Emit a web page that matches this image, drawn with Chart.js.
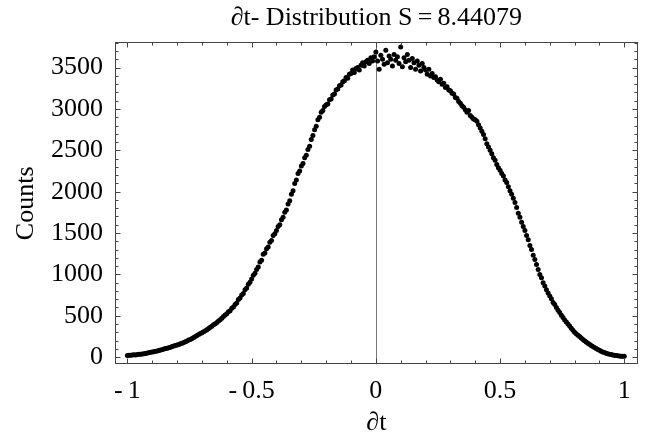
<!DOCTYPE html>
<html>
<head>
<meta charset="utf-8">
<script src="https://cdn.jsdelivr.net/npm/chart.js@4.4.1/dist/chart.umd.min.js"></script>
<style>
  html, body { margin: 0; padding: 0; background: #fff; }
</style>
</head>
<body>
<canvas id="chart" width="645" height="439"></canvas>
<script>
// histogram bins: centres go from -1 to 1 in steps of 1/150
const binStart = -1;
const binWidth = 1 / 150;

// counts per bin (15 bins per 0.1 of dt)
const counts = [
  20, 22, 21, 24, 27, 26, 30, 33, 36, 38, 41, 45, 49, 53, 58,               // -1.0 .. -0.9
  63, 66, 71, 75, 80, 86, 90, 97, 103, 108, 114, 120, 127, 133, 139,        // -0.9 .. -0.8
  145, 152, 160, 168, 177, 186, 195, 206, 214, 225, 236, 248, 260, 272, 285, // -0.8 .. -0.7
  295, 306, 320, 332, 345, 360, 374, 390, 402, 418, 436, 452, 470, 490, 508, // -0.7 .. -0.6
  525, 548, 560, 590, 605, 636, 655, 695, 715, 750, 770, 815, 835, 880, 905, // -0.6 .. -0.5
  945, 990, 1015, 1060, 1090, 1150, 1170, 1245, 1260, 1310, 1330, 1390, 1410, 1470, 1490,
  1530, 1580, 1600, 1660, 1690, 1750, 1780, 1850, 1890, 1970, 2010, 2100, 2140, 2220, 2250,
  2310, 2340, 2410, 2440, 2510, 2550, 2630, 2680, 2750, 2790, 2870, 2900, 2960, 2980, 3030,
  3050, 3060, 3110, 3120, 3170, 3180, 3230, 3240, 3280, 3290, 3330, 3340, 3380, 3370, 3420,
  3430, 3470, 3440, 3490, 3500, 3470, 3530, 3560, 3520, 3570, 3590, 3550, 3620, 3580, 3630,
  3690, 3580, 3480, 3650, 3600, 3540, 3710, 3560, 3640, 3600, 3520, 3660, 3590, 3630, 3550, // 0.0 .. 0.1
  3750, 3510, 3620, 3570, 3660, 3590, 3500, 3610, 3560, 3480, 3580, 3530, 3460, 3550, 3500,
  3470, 3420, 3480, 3400, 3430, 3380, 3390, 3350, 3330, 3360, 3300, 3310, 3260, 3270, 3230,
  3220, 3190, 3180, 3140, 3130, 3090, 3070, 3040, 3020, 2990, 2960, 2980, 2920, 2900, 2880,
  2870, 2850, 2810, 2770, 2730, 2690, 2640, 2580, 2540, 2500, 2460, 2410, 2380, 2330, 2290,
  2260, 2220, 2190, 2140, 2110, 2060, 2010, 1970, 1920, 1870, 1810, 1740, 1690, 1630, 1580,
  1530, 1470, 1420, 1350, 1300, 1230, 1180, 1120, 1060, 1000, 960, 900, 860, 815, 775,
  740, 705, 660, 635, 600, 565, 540, 505, 480, 450, 425, 400, 375, 350, 325,  // 0.7 .. 0.8
  300, 282, 265, 248, 230, 214, 198, 183, 168, 154, 140, 127, 115, 104, 93,   // 0.8 .. 0.9
  82, 72, 63, 55, 48, 41, 35, 30, 26, 22, 18, 15, 13, 11, 10,                 // 0.9 .. 1.0
  9
];

const xTicks = [-1, -0.5, 0, 0.5, 1];
const yTicks = [0, 500, 1000, 1500, 2000, 2500, 3000, 3500];

const serif = '"Liberation Serif", "Times New Roman", serif';
const points = counts.map((c, i) => ({ x: binStart + i * binWidth, y: c }));

function fmt(v) {
  return v < 0 ? '-\u2009' + Math.abs(v) : String(v);
}

// frame with inward ticks on all four sides, plus the line at dt = 0
const framePlugin = {
  id: 'frame',
  beforeDatasetsDraw(chart) {
    const { ctx, chartArea: a, scales } = chart;
    const x0 = Math.round(scales.x.getPixelForValue(0)) + 0.5;
    ctx.save();
    ctx.strokeStyle = '#777';
    ctx.lineWidth = 1;
    ctx.beginPath();
    ctx.moveTo(x0, a.top);
    ctx.lineTo(x0, a.bottom);
    ctx.stroke();
    ctx.restore();
  },
  afterDatasetsDraw(chart) {
    const { ctx, chartArea: a, scales } = chart;
    const L = Math.round(a.left) + 0.5, R = Math.round(a.right) - 0.5;
    const T = Math.round(a.top) + 0.5, B = Math.round(a.bottom) - 0.5;
    ctx.save();
    ctx.strokeStyle = '#444';
    ctx.lineWidth = 1;
    ctx.strokeRect(L, T, R - L, B - T);
    ctx.beginPath();
    // x ticks, every 0.1, bigger at the labelled ones
    for (let k = Math.ceil(scales.x.min * 10); k <= Math.floor(scales.x.max * 10); k++) {
      const px = Math.round(scales.x.getPixelForValue(k / 10)) + 0.5;
      const len = k % 5 === 0 ? 5 : 3;
      ctx.moveTo(px, B); ctx.lineTo(px, B - len);
      ctx.moveTo(px, T); ctx.lineTo(px, T + len);
    }
    // y ticks, every 100
    for (let k = Math.ceil(scales.y.min / 100); k <= Math.floor(scales.y.max / 100); k++) {
      const py = Math.round(scales.y.getPixelForValue(k * 100)) + 0.5;
      const len = k % 5 === 0 ? 5 : 3;
      ctx.moveTo(L, py); ctx.lineTo(L + len, py);
      ctx.moveTo(R, py); ctx.lineTo(R - len, py);
    }
    ctx.stroke();
    ctx.restore();
  }
};

new Chart(document.getElementById('chart'), {
  type: 'scatter',
  data: {
    datasets: [{
      data: points,
      pointRadius: 2.5,
      pointHoverRadius: 2.5,
      pointBackgroundColor: '#000',
      pointBorderWidth: 0
    }]
  },
  options: {
    responsive: false,
    animation: false,
    layout: { padding: { right: 7.3 } },
    plugins: {
      legend: { display: false },
      tooltip: { enabled: false },
      title: {
        display: true,
        fullSize: false,
        text: '\u2202t- Distribution S\u2009=\u20098.44079',
        color: '#000',
        font: { family: serif, size: 26, weight: 'normal', lineHeight: 1 },
        padding: { top: 5, bottom: 11.3 }
      }
    },
    scales: {
      x: {
        type: 'linear',
        min: -1.05,
        max: 1.054,
        afterBuildTicks: s => { s.ticks = xTicks.map(v => ({ value: v })); },
        afterFit: s => { s.height = 74.7; },
        grid: { display: false, drawTicks: false },
        border: { display: false },
        ticks: {
          callback: v => fmt(v),
          color: '#000',
          font: { family: serif, size: 26 },
          padding: 11,
          maxRotation: 0,
          autoSkip: false
        },
        title: {
          display: true,
          text: '\u2202t',
          color: '#000',
          font: { family: serif, size: 26, lineHeight: 1 },
          padding: { top: 0, bottom: 3 }
        }
      },
      y: {
        min: -87,
        max: 3806,
        afterBuildTicks: s => { s.ticks = yTicks.map(v => ({ value: v })); },
        afterFit: s => { s.width = 115; },
        grid: { display: false, drawTicks: false },
        border: { display: false },
        ticks: {
          callback: v => String(v),
          color: '#000',
          font: { family: serif, size: 26 },
          padding: 12,
          autoSkip: false
        },
        title: {
          display: true,
          text: 'Counts',
          color: '#000',
          font: { family: serif, size: 26, lineHeight: 1 },
          padding: { top: 13, bottom: 0 }
        }
      }
    }
  },
  plugins: [framePlugin]
});
</script>
</body>
</html>
